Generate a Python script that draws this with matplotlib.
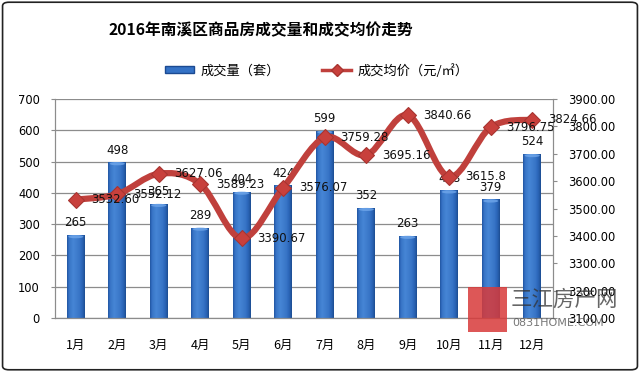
import numpy as np
import matplotlib
matplotlib.use("Agg")
import matplotlib.pyplot as plt
from matplotlib.path import Path
from matplotlib.patches import PathPatch, FancyBboxPatch, Rectangle, Ellipse
from matplotlib.lines import Line2D
from matplotlib.colors import LinearSegmentedColormap

plt.rcParams['font.family'] = ['Noto Sans CJK SC', 'DejaVu Sans']

title = "2016年南溪区商品房成交量和成交均价走势"
months = ["1月", "2月", "3月", "4月", "5月", "6月", "7月", "8月", "9月", "10月", "11月", "12月"]
volume = [265, 498, 365, 289, 404, 424, 599, 352, 263, 408, 379, 524]
price = [3532.60, 3552.12, 3627.06, 3589.23, 3390.67, 3576.07, 3759.28, 3695.16, 3840.66, 3615.8, 3796.75, 3824.66]
price_labels = ["3532.60", "3552.12", "3627.06", "3589.23", "3390.67", "3576.07", "3759.28", "3695.16", "3840.66", "3615.8", "3796.75", "3824.66"]
left_ticks = [0, 100, 200, 300, 400, 500, 600, 700]
right_ticks = [3100, 3200, 3300, 3400, 3500, 3600, 3700, 3800, 3900]
legend_labels = ["成交量（套）", "成交均价（元/㎡）"]

fig = plt.figure(figsize=(6.4, 3.72), dpi=100)
ax = fig.add_axes([0.086, 0.145, 0.778, 0.589])
ax2 = ax.twinx()

x = np.arange(len(months))
bw = 0.43
grid_c = "#8c8c8c"

ax.set_xlim(-0.5, len(months) - 0.5)
ax.set_ylim(0, 700)
ax2.set_ylim(3100, 3900)

# gradient bars (cylinder look)
g = np.linspace(0, 1, 64)
prof = np.interp(g, [0, 0.12, 0.35, 0.7, 0.9, 1.0], [0.2, 0.55, 0.75, 0.55, 0.3, 0.1])
cmap = LinearSegmentedColormap.from_list("b", ["#174384", "#2d68bb", "#4a8ad9"])
img = np.tile(prof, (2, 1))
for xi, v in zip(x, volume):
    rect = Rectangle((xi - bw / 2, 0), bw, v, facecolor="none", edgecolor="none")
    ax.add_patch(rect)
    im = ax.imshow(img, extent=(xi - bw / 2, xi + bw / 2, 0, v), aspect="auto",
                   cmap=cmap, vmin=0.0, vmax=0.8, zorder=2, interpolation="bilinear")
    im.set_clip_path(rect)
    ax.add_patch(Ellipse((xi, v - 5), bw * 0.85, 10, facecolor="#6fa6ea",
                         edgecolor="none", alpha=0.8, zorder=3))
    ax.text(xi, v + 18, str(v), ha="center", va="bottom", fontsize=8.5,
            family="DejaVu Sans", color="#111111", zorder=6)
ax.set_xlim(-0.5, len(months) - 0.5)
ax.set_ylim(0, 700)

# smooth line (Catmull-Rom -> cubic Bezier through the data points)
pts = np.column_stack([x, price]).astype(float)
verts = [tuple(pts[0])]
codes = [Path.MOVETO]
n = len(pts)
for i in range(n - 1):
    p0 = pts[max(i - 1, 0)]
    p1 = pts[i]
    p2 = pts[i + 1]
    p3 = pts[min(i + 2, n - 1)]
    c1 = p1 + (p2 - p0) / 6.0
    c2 = p2 - (p3 - p1) / 6.0
    verts += [tuple(c1), tuple(c2), tuple(p2)]
    codes += [Path.CURVE4] * 3
ax2.add_patch(PathPatch(Path(verts, codes), facecolor="none", edgecolor="#c0403c",
                        lw=4.5, zorder=4, capstyle="round", joinstyle="round"))
ax2.plot(x, price, linestyle="none", marker="D", markersize=8, markerfacecolor="#c8403c",
         markeredgecolor="#a83430", markeredgewidth=0.8, zorder=5)
for xi, p, lab in zip(x, price, price_labels):
    ax2.text(xi + 0.38, p, lab, ha="left", va="center", fontsize=8.5,
             family="DejaVu Sans", color="#111111", zorder=6)

# axes styling
ax.set_yticks(left_ticks)
ax.set_yticklabels([str(t) for t in left_ticks], family="DejaVu Sans", fontsize=8.3)
ax.yaxis.grid(True, color=grid_c, lw=0.9)
ax.set_axisbelow(True)
ax.set_xticks(x)
ax.set_xticklabels(months, fontsize=9)
ax.tick_params(axis="x", length=0, pad=15)
ax.tick_params(axis="y", length=3, color=grid_c, pad=8, direction="out")
ax2.set_yticks(right_ticks)
ax2.set_yticklabels([f"{t:.2f}" for t in right_ticks], family="DejaVu Sans", fontsize=8.3)
ax2.tick_params(axis="y", length=3, color=grid_c, pad=8, direction="out")
for a in (ax, ax2):
    a.spines["top"].set_visible(False)
    a.spines["left"].set_color(grid_c)
    a.spines["right"].set_color(grid_c)
    a.spines["bottom"].set_color(grid_c)
ax2.set_zorder(ax.get_zorder() + 1)
ax2.patch.set_visible(False)

# title and legend
fig.text(0.407, 0.918, title, ha="center", va="center", fontsize=11.3, fontweight="bold")
handles = [
    Rectangle((0, 0), 1, 1, facecolor="#3472c6", edgecolor="#1b4a92"),
    Line2D([0], [0], color="#c0403c", lw=2.5, marker="D", markersize=6,
           markerfacecolor="#c8403c", markeredgecolor="#a83430"),
]
fig.legend(handles, legend_labels, loc="center", bbox_to_anchor=(0.495, 0.81), ncol=2,
           frameon=False, fontsize=9.5, handlelength=2.2, handleheight=0.45,
           columnspacing=3.2, handletextpad=0.5)

# watermark
fig.patches.append(Rectangle((468 / 640, 1 - 332 / 372), 39 / 640, 45 / 372,
                             transform=fig.transFigure, facecolor="#d83a3a", alpha=0.85,
                             edgecolor="none", zorder=10))
fig.text(511 / 640, 1 - 300 / 372, "三江房产网", fontsize=15.5, color="#333333",
         alpha=0.75, va="center", ha="left", zorder=11)
fig.text(512 / 640, 1 - 323 / 372, "0831HOME.COM", fontsize=8, color="#555555",
         alpha=0.8, va="center", ha="left", family="DejaVu Sans", zorder=11)

# figure border
fig.patches.append(FancyBboxPatch((0.004, 0.006), 0.992, 0.988,
                                  boxstyle="round,pad=0,rounding_size=0.01",
                                  transform=fig.transFigure, facecolor="none",
                                  edgecolor="#222222", lw=1.2))

fig.savefig("out.png", dpi=100)
